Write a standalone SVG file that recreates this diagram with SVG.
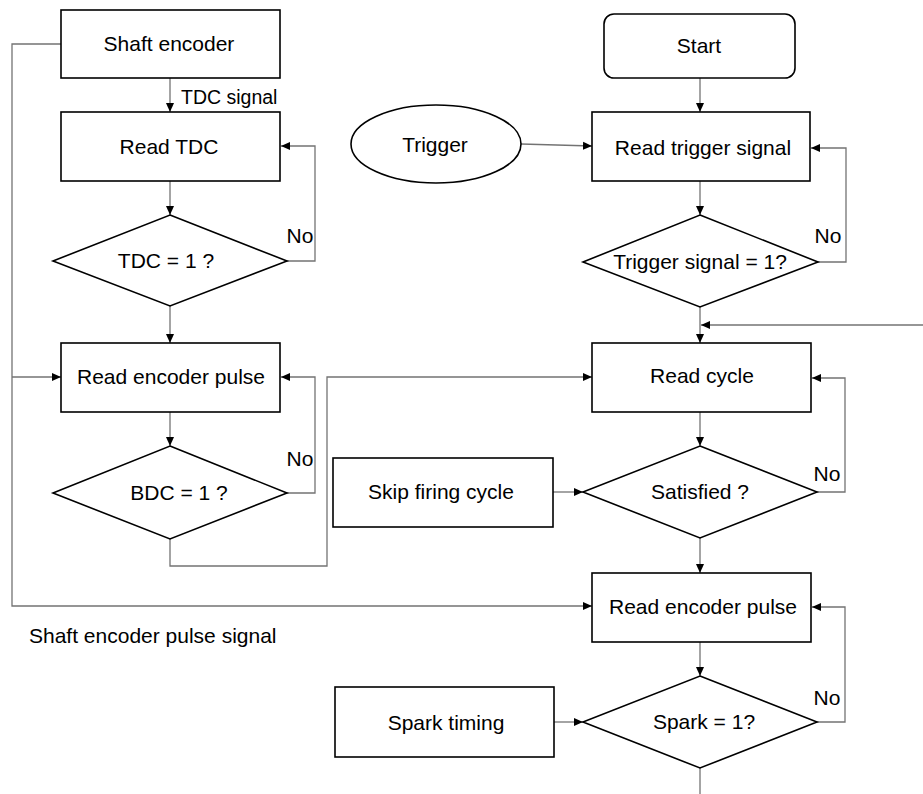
<svg xmlns="http://www.w3.org/2000/svg" width="923" height="794" viewBox="0 0 923 794">
  <style>
    .box { fill: #ffffff; stroke: #000000; stroke-width: 1.6; }
    .lbl { font-family: "Liberation Sans", Arial, sans-serif; font-size: 21px; fill: #000000; text-anchor: middle; }
    .lft { text-anchor: start; }
    .sm { font-size: 19.5px; }
    .wire { fill: none; stroke: #737373; stroke-width: 1.3; }
    .arr { marker-end: url(#head); }
  </style>
  <defs>
    <marker id="head" markerUnits="userSpaceOnUse" markerWidth="10" markerHeight="10" viewBox="0 0 10 10" refX="9" refY="5" orient="auto">
      <path d="M0,1 L9,5 L0,9 Z" fill="#000000"/>
    </marker>
  </defs>

  <!-- connectors -->
  <g id="connectors">
    <path class="wire arr" d="M170,78 V112"/>
    <path class="wire arr" d="M170,181 V215"/>
    <path class="wire arr" d="M287,261 H315 V146 H281"/>
    <path class="wire arr" d="M170,306 V343"/>
    <path class="wire arr" d="M170,412 V446"/>
    <path class="wire arr" d="M287,493 H315 V377 H281"/>
    <path class="wire arr" d="M170,539 V566 H327 V377 H592"/>
    <path class="wire arr" d="M61,44 H12 V606 H592"/>
    <path class="wire arr" d="M12,377 H61"/>
    <path class="wire arr" d="M700,78 V112"/>
    <path class="wire arr" d="M521,144 L592,146"/>
    <path class="wire arr" d="M700,181 V215"/>
    <path class="wire arr" d="M818,262 H846 V148 H811"/>
    <path class="wire arr" d="M700,307 V343"/>
    <path class="wire arr" d="M923,325 H701"/>
    <path class="wire arr" d="M700,412 V446"/>
    <path class="wire arr" d="M817,492 H845 V378 H812"/>
    <path class="wire arr" d="M553,492 H583"/>
    <path class="wire arr" d="M700,538 V573"/>
    <path class="wire arr" d="M700,642 V676"/>
    <path class="wire arr" d="M817,722 H845 V607 H812"/>
    <path class="wire arr" d="M554,722 H583"/>
    <path class="wire" d="M700,768 V794"/>
  </g>

  <!-- left column -->
  <g id="shaft-encoder">
    <rect class="box" x="61" y="10" width="219" height="68"/>
    <text class="lbl" x="169" y="51">Shaft encoder</text>
  </g>
  <text class="lbl lft sm" x="181" y="104">TDC signal</text>
  <g id="read-tdc">
    <rect class="box" x="61" y="112" width="219" height="69"/>
    <text class="lbl" x="169" y="154">Read TDC</text>
  </g>
  <g id="tdc-check">
    <polygon class="box" points="170,215 287,261 170,306 53,261"/>
    <text class="lbl" x="166" y="268">TDC = 1 ?</text>
  </g>
  <text class="lbl" x="300" y="243">No</text>
  <g id="read-encoder-pulse-a">
    <rect class="box" x="61" y="343" width="219" height="69"/>
    <text class="lbl" x="171" y="384">Read encoder pulse</text>
  </g>
  <g id="bdc-check">
    <polygon class="box" points="170,446 287,493 170,539 53,493"/>
    <text class="lbl" x="179" y="500">BDC = 1 ?</text>
  </g>
  <text class="lbl" x="300" y="466">No</text>
  <text class="lbl lft" x="29" y="643">Shaft encoder pulse signal</text>

  <!-- right column -->
  <g id="start">
    <rect class="box" x="604" y="14" width="191" height="64" rx="10" ry="10"/>
    <text class="lbl" x="699" y="53">Start</text>
  </g>
  <g id="trigger">
    <ellipse class="box" cx="436" cy="144" rx="85" ry="39"/>
    <text class="lbl" x="435" y="152">Trigger</text>
  </g>
  <g id="read-trigger-signal">
    <rect class="box" x="592" y="112" width="218" height="69"/>
    <text class="lbl" x="703" y="155">Read trigger signal</text>
  </g>
  <g id="trigger-check">
    <polygon class="box" points="700,215 818,262 700,307 583,262"/>
    <text class="lbl" x="700" y="269">Trigger signal = 1?</text>
  </g>
  <text class="lbl" x="828" y="243">No</text>
  <g id="read-cycle">
    <rect class="box" x="592" y="343" width="219" height="69"/>
    <text class="lbl" x="702" y="383">Read cycle</text>
  </g>
  <g id="skip-firing-cycle">
    <rect class="box" x="333" y="458" width="220" height="69"/>
    <text class="lbl" x="441" y="499">Skip firing cycle</text>
  </g>
  <g id="satisfied-check">
    <polygon class="box" points="700,446 817,492 700,538 583,492"/>
    <text class="lbl" x="700" y="499">Satisfied ?</text>
  </g>
  <text class="lbl" x="827" y="481">No</text>
  <g id="read-encoder-pulse-b">
    <rect class="box" x="592" y="573" width="219" height="69"/>
    <text class="lbl" x="703" y="614">Read encoder pulse</text>
  </g>
  <g id="spark-timing">
    <rect class="box" x="335" y="687" width="219" height="70"/>
    <text class="lbl" x="446" y="730">Spark timing</text>
  </g>
  <g id="spark-check">
    <polygon class="box" points="700,676 817,722 700,768 583,722"/>
    <text class="lbl" x="704" y="729">Spark = 1?</text>
  </g>
  <text class="lbl" x="827" y="705">No</text>
</svg>
